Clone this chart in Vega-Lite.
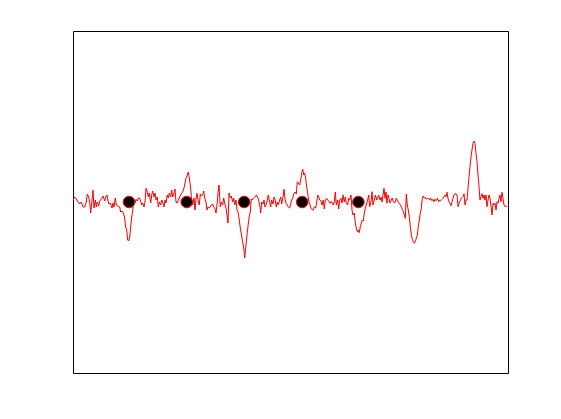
{
  "$schema": "https://vega.github.io/schema/vega-lite/v6.json",
  "width": 435,
  "height": 342,
  "autosize": {"type": "none"},
  "padding": {"left": 73, "top": 31, "right": 53, "bottom": 46},
  "background": "white",
  "config": {"view": {"stroke": "black", "strokeWidth": 1}},
  "datasets": {
    "signal": [
      {"t":0,"v":2},{"t":1.7,"v":5},{"t":3.3,"v":3},{"t":5,"v":0},{"t":6.7,"v":-2},{"t":8.3,"v":0},{"t":10,"v":-5},{"t":11.7,"v":-5},{"t":13.3,"v":0},{"t":14.3,"v":8},{"t":15.7,"v":5},{"t":16.7,"v":0},{"t":17.7,"v":-11},{"t":19,"v":2},{"t":20,"v":12},{"t":21,"v":-6},{"t":22.3,"v":2},{"t":23.3,"v":-5},{"t":24.3,"v":0},{"t":25.7,"v":-4},{"t":26.7,"v":1},{"t":28.3,"v":3},{"t":30,"v":6},{"t":31.7,"v":1},{"t":32.7,"v":5},{"t":34,"v":7},{"t":35,"v":1},{"t":36,"v":-2},{"t":37.3,"v":-1},{"t":39,"v":-6},{"t":40,"v":-1},{"t":41,"v":-5},{"t":42.3,"v":4},{"t":43.3,"v":-3},{"t":45,"v":-4},{"t":46.7,"v":-5},{"t":47.7,"v":-10},{"t":49,"v":-9},{"t":50.3,"v":-11},{"t":51.5,"v":-15},{"t":52.7,"v":-25},{"t":53.7,"v":-28},{"t":54.7,"v":-38},{"t":55.7,"v":-39},{"t":56.7,"v":-35},{"t":57.7,"v":-25},{"t":58.7,"v":-15},{"t":59.7,"v":-9},{"t":60.7,"v":2},
      {"t":62,"v":-1},{"t":63,"v":2.7},{"t":64.3,"v":1},{"t":65.3,"v":4},{"t":66.3,"v":4.3},{"t":67.7,"v":1},{"t":68.7,"v":-3},{"t":69.7,"v":-1},{"t":71,"v":-5},{"t":72,"v":0},{"t":73,"v":13.7},{"t":74.3,"v":10},{"t":75.3,"v":5},{"t":76.3,"v":9},{"t":77.7,"v":-1},{"t":78.7,"v":7},{"t":79.7,"v":11},{"t":81,"v":5},{"t":82,"v":9},{"t":83,"v":2},{"t":84.3,"v":5},{"t":85.3,"v":-5},{"t":86.3,"v":0},{"t":87.7,"v":-3},{"t":88.7,"v":2},{"t":89.7,"v":0},{"t":91,"v":-5},{"t":92,"v":2},{"t":93,"v":-1},{"t":94.3,"v":7},{"t":95.3,"v":4},{"t":96.3,"v":9},{"t":97.7,"v":5},{"t":98.7,"v":12},{"t":99.7,"v":5},{"t":101,"v":9},{"t":102,"v":13},{"t":103,"v":0},{"t":104.3,"v":-1},{"t":105.3,"v":2},{"t":106.3,"v":4},{"t":107.7,"v":7},{"t":108.7,"v":9},{"t":109.7,"v":10},{"t":111,"v":14},{"t":112,"v":19},{"t":113,"v":23.7},{"t":114.3,"v":27},{"t":115.3,"v":30},{"t":116.3,"v":24},{"t":117.7,"v":14},{"t":118.7,"v":0},{"t":119.7,"v":-3},{"t":121,"v":4},{"t":122,"v":-8},{"t":123,"v":3},
      {"t":124,"v":8.7},{"t":125,"v":2},{"t":126.3,"v":-3},{"t":127.3,"v":8},{"t":128.3,"v":6},{"t":129.7,"v":7},{"t":130.7,"v":11},{"t":131.7,"v":4},{"t":133,"v":0},{"t":134,"v":-8},{"t":135,"v":-5},{"t":136.3,"v":-6},{"t":137.3,"v":-5},{"t":138.3,"v":-3},{"t":139.7,"v":-2},{"t":140.7,"v":-5},{"t":141.7,"v":-6},{"t":143,"v":-11},{"t":144,"v":-3},{"t":145,"v":9},{"t":146,"v":17},{"t":147.3,"v":-5},{"t":148.3,"v":0},{"t":149.7,"v":-3},{"t":150.7,"v":4},{"t":151.7,"v":-1},{"t":153,"v":-6},{"t":154,"v":-13},{"t":155,"v":-21},{"t":156,"v":9},{"t":157.3,"v":4},{"t":158.3,"v":6},{"t":159.7,"v":0},{"t":160.7,"v":4},{"t":161.7,"v":-3},{"t":163,"v":2},{"t":164,"v":-8},{"t":165,"v":-10},{"t":166,"v":-16},{"t":167.3,"v":-26},{"t":169,"v":-36},{"t":170.7,"v":-46},{"t":171.7,"v":-56},{"t":172.7,"v":-46},{"t":173.7,"v":-36},{"t":175,"v":-24},{"t":176.3,"v":-14},{"t":177.3,"v":-10},{"t":178.3,"v":3},{"t":179,"v":2},{"t":180.7,"v":4},{"t":181.7,"v":5},{"t":183.3,"v":7},{"t":185,"v":4},
      {"t":186,"v":0},{"t":187,"v":-5},{"t":187.7,"v":-11},{"t":188.7,"v":0},{"t":190,"v":-2},{"t":191,"v":2},{"t":192,"v":-5},{"t":193.3,"v":-2},{"t":194.3,"v":2},{"t":195.3,"v":7},{"t":196.7,"v":0},{"t":197.7,"v":-5},{"t":198.7,"v":2},{"t":200,"v":-2},{"t":201,"v":5},{"t":202,"v":3},{"t":203.3,"v":-5},{"t":204.3,"v":0},{"t":205.3,"v":-3},{"t":206.7,"v":2},{"t":207.7,"v":5},{"t":208.7,"v":-2},{"t":210,"v":5},{"t":211,"v":12.7},{"t":212,"v":3},{"t":213.3,"v":-2},{"t":214.3,"v":-3},{"t":215.3,"v":-5},{"t":216.7,"v":-6},{"t":217.7,"v":-2},{"t":218.7,"v":2},{"t":220,"v":5},{"t":221,"v":8.7},{"t":222,"v":10},{"t":223.3,"v":8},{"t":224.3,"v":20.3},{"t":225.3,"v":19},{"t":226.7,"v":17},{"t":227.7,"v":22},{"t":228.7,"v":28.7},{"t":229.7,"v":32.7},{"t":230.7,"v":27},{"t":231.7,"v":28.7},{"t":232.7,"v":23.7},{"t":233.7,"v":15},{"t":234.7,"v":8.7},{"t":236,"v":0},{"t":237,"v":-3},{"t":238,"v":-6.3},{"t":239.3,"v":-8},{"t":240.3,"v":-8},{"t":241.3,"v":-5},{"t":242.7,"v":-6},{"t":243.7,"v":0},{"t":244.7,"v":7},{"t":245.7,"v":5},{"t":246.7,"v":2},
      {"t":248,"v":1.3},{"t":249,"v":-3},{"t":250.3,"v":2},{"t":251.3,"v":-7},{"t":252.3,"v":2},{"t":253.7,"v":3.7},{"t":254.7,"v":2},{"t":255.7,"v":1},{"t":257,"v":-1.3},{"t":258,"v":0.3},{"t":259,"v":0},{"t":260.3,"v":-3},{"t":261.3,"v":0},{"t":262.3,"v":10},{"t":263.3,"v":-3},{"t":264.7,"v":2},{"t":265.7,"v":-7},{"t":266.7,"v":2},{"t":268,"v":3.7},{"t":269,"v":-1},{"t":270,"v":7},{"t":271.3,"v":0},{"t":272.3,"v":5},{"t":273.3,"v":-1},{"t":274.7,"v":-3},{"t":275.7,"v":3.7},{"t":276.7,"v":2},{"t":278,"v":7},{"t":279,"v":-8},{"t":280,"v":-13},{"t":281.3,"v":-11},{"t":282.3,"v":-21},{"t":283.3,"v":-26},{"t":284.3,"v":-29.7},{"t":285.3,"v":-28},{"t":286.3,"v":-30.7},{"t":287.3,"v":-24.7},{"t":288.3,"v":-21},{"t":289.3,"v":-18},{"t":290.3,"v":-19},{"t":291.3,"v":-11},{"t":292.3,"v":-6},{"t":293.3,"v":-3},{"t":294.7,"v":2},{"t":295.7,"v":7},{"t":296.7,"v":-4.7},{"t":298,"v":0},{"t":299,"v":10.3},{"t":300,"v":-3},{"t":301.3,"v":2},{"t":302.3,"v":7},{"t":303.7,"v":2},{"t":304.7,"v":5},{"t":305.7,"v":7},{"t":307,"v":2},{"t":308,"v":5},{"t":309,"v":0},
      {"t":310,"v":7},{"t":311,"v":13.7},{"t":312,"v":3.7},{"t":313,"v":10},{"t":314,"v":-1.3},{"t":315,"v":7},{"t":316,"v":3.7},{"t":317,"v":-1},{"t":318.3,"v":2},{"t":319.3,"v":4},{"t":320.3,"v":0.3},{"t":321.3,"v":-1},{"t":322.3,"v":0},{"t":323.3,"v":3.7},{"t":324.3,"v":2},{"t":325.3,"v":0},{"t":326.3,"v":-1.3},{"t":327.3,"v":-3},{"t":328.3,"v":-4.7},{"t":329.3,"v":-7.3},{"t":330.3,"v":-9.7},{"t":331.3,"v":-13},{"t":332.3,"v":-16.3},{"t":333.3,"v":8},{"t":334.3,"v":-3},{"t":335.3,"v":-8},{"t":336.3,"v":-14.7},{"t":337.3,"v":-24.7},{"t":338.3,"v":-33},{"t":339.3,"v":-37.3},{"t":340.3,"v":-39.7},{"t":341.3,"v":-41.3},{"t":342.3,"v":-39.7},{"t":343.3,"v":-36.3},{"t":344.3,"v":-33},{"t":345.3,"v":-24.7},{"t":346.3,"v":-18},{"t":347.3,"v":-11.3},{"t":348.3,"v":-6.3},{"t":349.3,"v":3.7},{"t":350.3,"v":6},{"t":351.3,"v":3.7},{"t":352.3,"v":4.7},{"t":353.3,"v":2.7},{"t":354.3,"v":3.7},{"t":355.7,"v":3.7},{"t":356.7,"v":2},{"t":357.7,"v":3.7},{"t":359,"v":1.3},{"t":360,"v":2.7},{"t":361,"v":0.3},{"t":362,"v":2.7},{"t":363.3,"v":1.3},{"t":364.3,"v":3.7},{"t":365.7,"v":0.3},{"t":366.7,"v":2},{"t":367.7,"v":1.3},{"t":369,"v":2.7},{"t":370,"v":3.7},{"t":371,"v":5.3},
      {"t":372,"v":7},{"t":373,"v":5.3},{"t":374,"v":9.7},{"t":375,"v":3.7},{"t":376,"v":0.3},{"t":377,"v":-1.3},{"t":378,"v":-3.7},{"t":379,"v":0},{"t":380,"v":3.7},{"t":381,"v":7},{"t":382,"v":8.3},{"t":383,"v":8.3},{"t":384,"v":7},{"t":385,"v":-4.7},{"t":386,"v":-1.3},{"t":387,"v":1},{"t":388,"v":3},{"t":389,"v":4.3},{"t":390,"v":5.3},{"t":391,"v":8.3},{"t":392,"v":-3},{"t":393,"v":2},{"t":394,"v":2},{"t":395,"v":13.7},{"t":396,"v":25.3},{"t":397,"v":35.3},{"t":398,"v":45.3},{"t":399,"v":52},{"t":400,"v":58.7},{"t":401,"v":61},{"t":402,"v":58.7},{"t":403,"v":48.7},{"t":404,"v":40.3},{"t":405,"v":27},{"t":406,"v":15.3},{"t":407,"v":2},{"t":408,"v":5.3},{"t":409,"v":8.3},{"t":410,"v":3.7},{"t":411,"v":7},{"t":412,"v":2},{"t":413,"v":7},{"t":414,"v":-4.7},{"t":415,"v":2},{"t":416,"v":7},{"t":417,"v":3.7},{"t":418,"v":-4.7},{"t":419,"v":-13},{"t":420,"v":-1.3},{"t":421,"v":-3},{"t":422,"v":-1.3},{"t":423,"v":-8},{"t":424,"v":0.3},{"t":425,"v":-1.3},{"t":426,"v":3.7},{"t":427,"v":7},{"t":428,"v":0.3},{"t":429,"v":9.7},{"t":430,"v":3.7},{"t":431,"v":-3},{"t":432,"v":-4.7},{"t":433,"v":-3.7},{"t":434,"v":-5}
    ],
    "peaks": [
      {"t":56,"v":0},{"t":113.7,"v":0},{"t":171.2,"v":0},{"t":229.2,"v":0},{"t":285.4,"v":0}
    ]
  },
  "layer": [
    {
      "data": {"name": "signal"},
      "mark": {"type": "line", "color": "#ff0000", "strokeWidth": 1, "clip": true},
      "encoding": {
        "x": {"field": "t", "type": "quantitative", "scale": {"domain": [0, 435], "nice": false, "zero": false}, "axis": null},
        "y": {"field": "v", "type": "quantitative", "scale": {"domain": [-171, 171], "nice": false, "zero": false}, "axis": null}
      }
    },
    {
      "data": {"name": "peaks"},
      "mark": {"type": "point", "shape": "circle", "filled": true, "fill": "#000000", "stroke": "#ff0000", "strokeWidth": 1, "opacity": 1, "size": 135},
      "encoding": {
        "x": {"field": "t", "type": "quantitative", "scale": {"domain": [0, 435], "nice": false, "zero": false}, "axis": null},
        "y": {"field": "v", "type": "quantitative", "scale": {"domain": [-171, 171], "nice": false, "zero": false}, "axis": null}
      }
    }
  ]
}
